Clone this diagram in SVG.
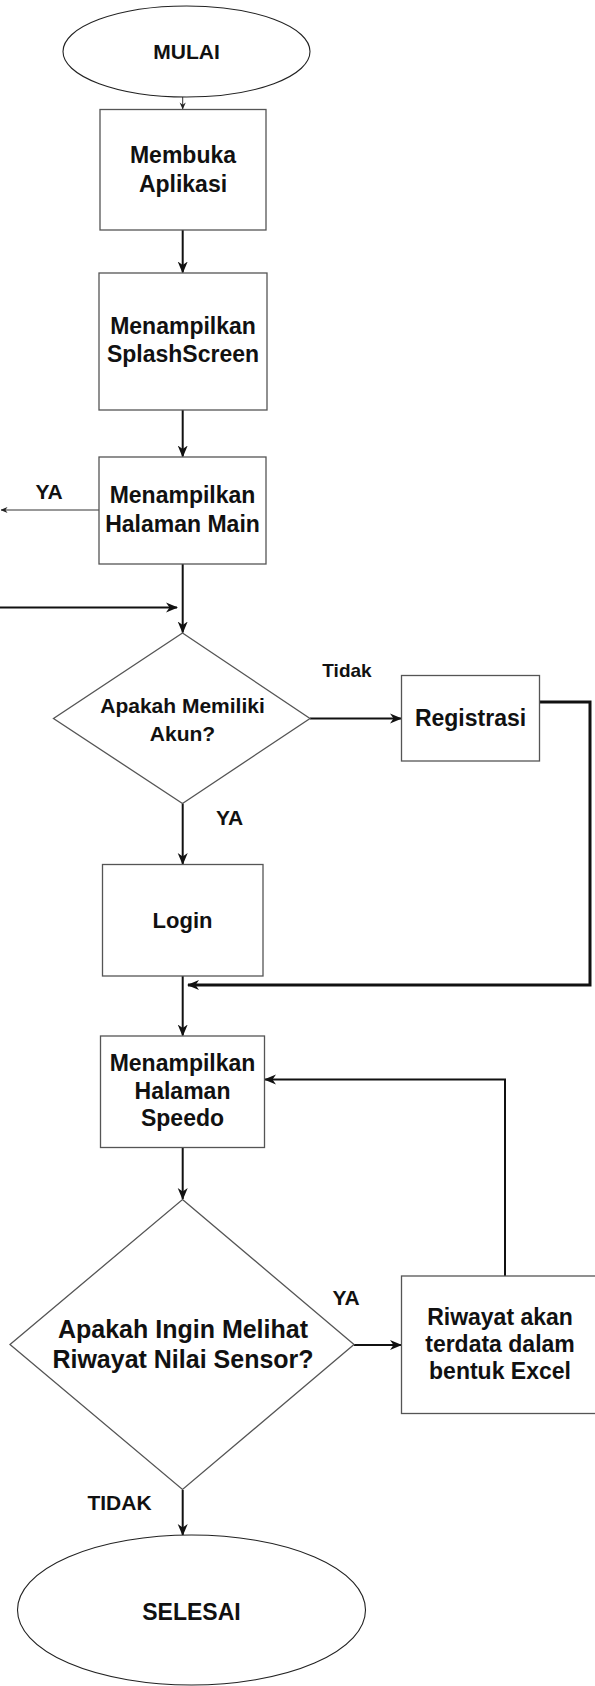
<svg xmlns="http://www.w3.org/2000/svg" width="595" height="1686" viewBox="0 0 595 1686">
<style>
.bg{fill:#ffffff}
.shape{fill:#ffffff;stroke:#555555;stroke-width:1.3}
.ell{fill:#ffffff;stroke:#222222;stroke-width:1.1}
.t{font-family:"Liberation Sans",Arial,sans-serif;font-weight:bold;fill:#111111;text-anchor:middle}
.f19{font-size:19px}
.f21{font-size:21px}
.f22{font-size:22px}
.f23{font-size:23px}
.f25{font-size:25px}
.c{fill:none;stroke:#111111;stroke-width:2}
.thin{fill:none;stroke:#333333;stroke-width:1}
.heavy{fill:none;stroke:#111111;stroke-width:3}
</style>
<defs>
<marker id="arr" viewBox="0 0 12 12" refX="11" refY="6" markerWidth="12" markerHeight="12" markerUnits="userSpaceOnUse" orient="auto">
<path d="M0,1 L12,6 L0,11 L3.5,6 z" fill="#111111"/>
</marker>
<marker id="arrS" viewBox="0 0 8 8" refX="7.5" refY="4" markerWidth="7" markerHeight="7" markerUnits="userSpaceOnUse" orient="auto">
<path d="M0,0.5 L8,4 L0,7.5 L2.5,4 z" fill="#222222"/>
</marker>
</defs>
<rect class="bg" x="0" y="0" width="595" height="1686"/>

<g id="connectors">
<path class="thin" d="M182.7,97 L182.7,109" marker-end="url(#arrS)"/>
<path class="c" d="M182.7,230 L182.7,272.5" marker-end="url(#arr)"/>
<path class="c" d="M182.7,410 L182.7,456.5" marker-end="url(#arr)"/>
<path class="thin" d="M99,510 L1,510" marker-end="url(#arrS)"/>
<path class="c" d="M182.7,564 L182.7,632.5" marker-end="url(#arr)"/>
<path class="c" d="M0,607.5 L177,607.5" marker-end="url(#arr)"/>
<path class="c" d="M310,718.5 L401,718.5" marker-end="url(#arr)"/>
<path class="heavy" d="M539.5,702 L590,702 L590,985 L188,985" marker-end="url(#arr)"/>
<path class="c" d="M182.7,803.5 L182.7,864" marker-end="url(#arr)"/>
<path class="c" d="M182.7,976 L182.7,1035.5" marker-end="url(#arr)"/>
<path class="c" d="M182.7,1147.5 L182.7,1199" marker-end="url(#arr)"/>
<path class="c" d="M505,1276 L505,1079.5 L265,1079.5" marker-end="url(#arr)"/>
<path class="c" d="M354,1345 L401,1345" marker-end="url(#arr)"/>
<path class="c" d="M182.7,1490 L182.7,1535" marker-end="url(#arr)"/>
</g>

<g id="mulai">
<ellipse class="ell" cx="186.5" cy="51.5" rx="123.5" ry="45.5"/>
<text class="t f21" x="186.5" y="59">MULAI</text>
</g>

<g id="membuka">
<rect class="shape" x="100" y="109.5" width="166" height="120.5"/>
<text class="t f23" x="183" y="163">Membuka</text>
<text class="t f23" x="183" y="192">Aplikasi</text>
</g>

<g id="splash">
<rect class="shape" x="99" y="273" width="168" height="137"/>
<text class="t f23" x="183" y="334">Menampilkan</text>
<text class="t f23" x="183" y="362">SplashScreen</text>
</g>

<g id="main">
<rect class="shape" x="99" y="457" width="167" height="107"/>
<text class="t f23" x="182.5" y="503">Menampilkan</text>
<text class="t f23" x="182.5" y="531.5">Halaman Main</text>
</g>
<g id="label-ya-main">
<text class="t f21" x="49" y="499">YA</text>
</g>

<g id="punya-akun">
<polygon class="shape" points="182.5,633 310,718.5 182.5,803.5 53.5,718.5"/>
<text class="t f21" x="182.5" y="713">Apakah Memiliki</text>
<text class="t f21" x="182.5" y="741">Akun?</text>
</g>
<g id="label-tidak-1">
<text class="t f19" x="347" y="677">Tidak</text>
</g>

<g id="registrasi">
<rect class="shape" x="401.5" y="675.5" width="138" height="85.5"/>
<text class="t f23" x="470.5" y="726">Registrasi</text>
</g>

<g id="label-ya-1">
<text class="t f21" x="229.5" y="825">YA</text>
</g>

<g id="login">
<rect class="shape" x="102.5" y="864.5" width="160.5" height="111.5"/>
<text class="t f22" x="182.5" y="928">Login</text>
</g>

<g id="speedo">
<rect class="shape" x="100.5" y="1036" width="164" height="111.5"/>
<text class="t f23" x="182.5" y="1071">Menampilkan</text>
<text class="t f23" x="182.5" y="1099">Halaman</text>
<text class="t f23" x="182.5" y="1126">Speedo</text>
</g>

<g id="lihat-riwayat">
<polygon class="shape" points="182.5,1199.5 354,1344.5 182.5,1489.5 10,1344.5"/>
<text class="t f25" x="183" y="1338">Apakah Ingin Melihat</text>
<text class="t f25" x="183" y="1368">Riwayat Nilai Sensor?</text>
</g>
<g id="label-ya-2">
<text class="t f21" x="346" y="1305">YA</text>
</g>

<g id="riwayat">
<rect class="shape" x="401.5" y="1276" width="197" height="137.5"/>
<text class="t f23" x="500" y="1325">Riwayat akan</text>
<text class="t f23" x="500" y="1352">terdata dalam</text>
<text class="t f23" x="500" y="1378.5">bentuk Excel</text>
</g>

<g id="label-tidak-2">
<text class="t f21" x="119.5" y="1509.5">TIDAK</text>
</g>

<g id="selesai">
<ellipse class="ell" cx="191.5" cy="1610" rx="174" ry="75"/>
<text class="t f23" x="191.5" y="1620">SELESAI</text>
</g>
</svg>
